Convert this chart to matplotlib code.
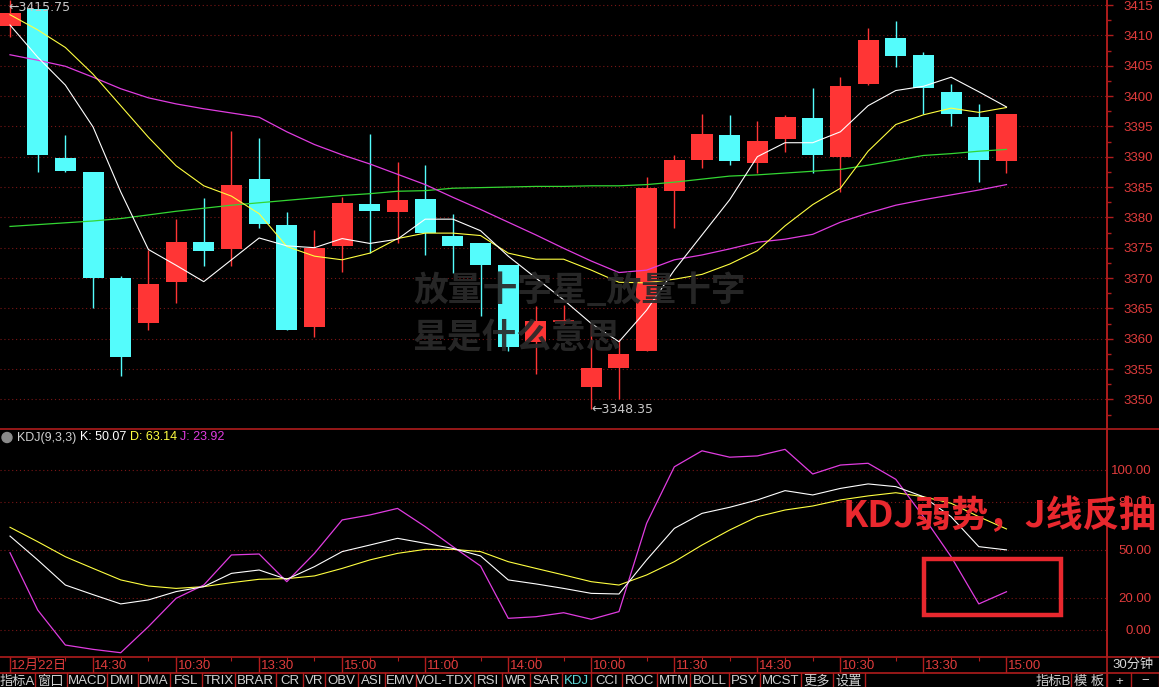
import matplotlib
matplotlib.use('Agg')
import matplotlib.pyplot as plt
from matplotlib.patches import Rectangle, Circle

plt.rcParams['font.family'] = ['Liberation Sans', 'Noto Sans CJK SC', 'DejaVu Sans']

# ---------------- data ----------------
opens  = [3411.6, 3414.3, 3389.7, 3387.5, 3370.0, 3362.6, 3369.4, 3375.9, 3374.8, 3386.3,
          3378.7, 3362.0, 3375.3, 3382.2, 3380.9, 3383.0, 3376.9, 3375.8, 3372.1, 3359.5,
          3362.9, 3352.0, 3355.1, 3358.0, 3384.3, 3389.5, 3393.6, 3389.0, 3392.9, 3396.4,
          3390.0, 3402.0, 3409.6, 3406.8, 3400.7, 3396.6, 3389.3]
highs  = [3415.75, 3414.3, 3393.6, 3387.5, 3370.3, 3374.6, 3379.7, 3383.2, 3394.2, 3393.0,
          3380.8, 3377.9, 3383.4, 3393.8, 3389.2, 3388.7, 3380.6, 3375.8, 3372.1, 3365.4,
          3365.5, 3362.5, 3359.8, 3386.6, 3390.2, 3397.0, 3396.9, 3395.8, 3396.9, 3401.4,
          3403.1, 3411.2, 3412.4, 3407.3, 3402.0, 3398.7, 3397.1]
lows   = [3409.8, 3387.4, 3387.5, 3365.0, 3353.9, 3361.4, 3365.8, 3371.9, 3371.9, 3378.3,
          3361.4, 3360.3, 3371.0, 3374.1, 3375.8, 3373.8, 3370.8, 3363.7, 3357.9, 3354.1,
          3362.5, 3348.35, 3350.1, 3358.0, 3378.2, 3388.2, 3388.7, 3387.3, 3390.8, 3387.3,
          3384.1, 3401.8, 3404.8, 3397.0, 3395.0, 3385.9, 3387.3]
closes = [3413.6, 3390.2, 3387.7, 3370.0, 3356.9, 3369.0, 3375.9, 3374.5, 3385.3, 3378.9,
          3361.4, 3374.9, 3382.4, 3381.1, 3382.9, 3377.4, 3375.3, 3372.1, 3358.6, 3362.9,
          3362.9, 3355.1, 3357.5, 3384.9, 3389.5, 3393.7, 3389.3, 3392.6, 3396.6, 3390.2,
          3401.6, 3409.2, 3406.6, 3401.4, 3397.1, 3389.5, 3397.1]

ma_white = [3411.7, 3406.4, 3401.8, 3394.9, 3384.2, 3374.7, 3372.1, 3369.4, 3373.0, 3376.6,
            3375.3, 3375.0, 3376.5, 3375.7, 3376.4, 3379.7, 3379.7, 3377.8, 3373.6, 3370.0,
            3366.4, 3362.5, 3359.5, 3364.7, 3371.3, 3377.1, 3382.9, 3390.0, 3392.3, 3392.3,
            3394.1, 3398.4, 3400.9, 3401.6, 3403.1, 3400.7, 3398.2]
ma_yellow = [3413.4, 3410.9, 3408.0, 3403.6, 3398.4, 3393.2, 3388.5, 3385.2, 3383.5, 3380.6,
             3375.2, 3373.6, 3373.0, 3374.1, 3376.5, 3377.4, 3377.4, 3377.0, 3374.1, 3373.1,
             3373.1, 3371.3, 3369.3, 3369.2, 3369.8, 3370.6, 3372.3, 3374.5, 3378.6, 3382.1,
             3384.8, 3390.9, 3395.3, 3396.9, 3398.0, 3397.3, 3398.1]
ma_magenta = [3406.8, 3405.9, 3404.9, 3403.1, 3401.2, 3399.7, 3398.7, 3397.9, 3397.2, 3396.5,
              3394.1, 3392.0, 3390.3, 3388.8, 3387.1, 3385.4, 3383.3, 3381.3, 3379.2, 3377.1,
              3374.9, 3372.8, 3370.9, 3371.3, 3373.0, 3373.8, 3374.8, 3375.9, 3376.4, 3377.2,
              3379.2, 3380.7, 3382.0, 3382.9, 3383.7, 3384.5, 3385.4]
ma_green = [3378.5, 3378.8, 3379.1, 3379.4, 3379.8, 3380.4, 3381.0, 3381.5, 3382.0, 3382.4,
            3382.8, 3383.2, 3383.6, 3383.9, 3384.3, 3384.4, 3384.8, 3384.9, 3385.0, 3385.1,
            3385.1, 3385.2, 3385.2, 3385.4, 3385.8, 3386.3, 3386.8, 3387.0, 3387.3, 3387.6,
            3387.9, 3388.6, 3389.4, 3390.2, 3390.5, 3390.9, 3391.2]

kdj_k = [58.7, 43.8, 28.1, 22.1, 16.3, 18.8, 24.0, 27.1, 35.4, 37.5,
         31.7, 39.6, 49.0, 53.1, 57.3, 54.2, 51.0, 46.3, 31.3, 28.8,
         26.0, 22.9, 22.5, 43.8, 63.5, 72.9, 76.7, 81.3, 87.1, 84.4,
         88.5, 91.3, 89.6, 83.3, 70.8, 52.1, 50.07]
kdj_d = [64.2, 55.2, 45.8, 38.5, 31.3, 27.5, 26.0, 27.1, 29.6, 31.7,
         32.1, 33.8, 38.5, 43.8, 47.9, 50.4, 50.4, 49.0, 42.7, 38.5,
         34.4, 30.2, 28.1, 34.4, 42.7, 53.1, 62.5, 70.8, 75.0, 77.5,
         81.3, 83.8, 85.8, 83.3, 79.2, 70.8, 63.14]
kdj_j = [48.3, 12.5, -9.4, -12.1, -14.2, 2.1, 19.8, 28.1, 46.9, 47.5,
         30.2, 47.9, 68.8, 71.9, 76.0, 64.6, 52.1, 40.0, 7.3, 8.3,
         10.8, 6.7, 11.5, 66.7, 102.0, 112.0, 108.0, 108.8, 112.9, 97.5,
         103.1, 104.2, 94.2, 70.8, 45.8, 16.3, 23.92]

time_idx = [0, 3, 6, 9, 12, 15, 18, 21, 24, 27, 30, 33, 36]
time_labels = ['12月22日', '14:30', '10:30', '13:30', '15:00', '11:00', '14:00',
               '10:00', '11:30', '14:30', '10:30', '13:30', '15:00']
price_ticks = list(range(3350, 3420, 5))
kdj_ticks = [0, 20, 50, 80, 100]
kdj_tick_labels = ['0.00', '20.00', '50.00', '80.00', '100.00']

tabs_left = ['指标A', '窗口', 'MACD', 'DMI', 'DMA', 'FSL', 'TRIX', 'BRAR', 'CR', 'VR', 'OBV',
             'ASI', 'EMV', 'VOL-TDX', 'RSI', 'WR', 'SAR', 'KDJ', 'CCI', 'ROC', 'MTM', 'BOLL',
             'PSY', 'MCST', '更多', '设置']
tabs_left_edges = [0, 35, 67, 107, 138, 170, 202, 235, 276, 303, 325, 358, 385, 416, 474,
                   502, 530, 562, 591, 622, 657, 690, 729, 760, 801, 833, 865]
tabs_right = ['指标B', '模 板', '+', '−']
tabs_right_edges = [1035, 1071, 1107, 1131, 1159]

# ---------------- style ----------------
W, H, DPI = 1159, 687, 100
RED_UP = '#ff3535'
CYAN_DN = '#54fcfc'
FRAME = '#b01c1c'
GRID = '#7a1616'
AXTXT = '#e03c3c'
PX = 27.68          # pixels per candle
X0 = -10 / PX
X1 = 1097 / PX
XR = 1107           # right edge of plotting area (px)

fig = plt.figure(figsize=(W / DPI, H / DPI), dpi=DPI, facecolor='black')

def fy(py):
    return 1 - py / H

# ---------- price panel ----------
ax = fig.add_axes([0, fy(428.7), XR / W, 428.7 / H])
ax.set_facecolor('black')
ax.set_xlim(X0, X1)
ax.set_ylim(3415 - 423.7 / 6.067, 3415 + 5 / 6.067)
for s in ['left', 'top', 'bottom']:
    ax.spines[s].set_visible(False)
ax.spines['right'].set_color(FRAME)
ax.spines['right'].set_linewidth(1.2)
ax.set_xticks([])
ax.yaxis.tick_right()
ax.set_yticks(price_ticks)
ax.set_yticklabels([str(t) for t in price_ticks])
ax.set_yticks([t + 2.5 for t in price_ticks[:-1]] + [3347.5], minor=True)
ax.tick_params(axis='y', which='major', colors=FRAME, labelcolor=AXTXT, length=4,
               width=1, labelsize=9.5, pad=29)
ax.tick_params(axis='y', which='minor', colors=FRAME, length=3, width=1)
for lbl in ax.get_yticklabels():
    lbl.set_ha('right')
for t in price_ticks:
    ax.axhline(t, color=GRID, lw=0.8, ls=(0, (1, 2.5)), zorder=0)

idx = list(range(len(opens)))
bw = 0.76
for i in idx:
    o, h, l, c = opens[i], highs[i], lows[i], closes[i]
    col = RED_UP if c >= o else CYAN_DN
    ax.vlines(i, l, h, color=col, lw=1.0, zorder=2)
    if abs(c - o) < 0.15:
        ax.hlines(o, i - bw / 2, i + bw / 2, color=col, lw=1.2, zorder=3)
    else:
        ax.bar(i, abs(c - o), bottom=min(o, c), width=bw, color=col, lw=0, zorder=3)

ax.plot(idx, ma_green, color='#33d633', lw=0.9, zorder=4)
ax.plot(idx, ma_magenta, color='#e03ce0', lw=0.9, zorder=4)
ax.plot(idx, ma_yellow, color='#ffff40', lw=0.8, zorder=4)
ax.plot(idx, ma_white, color='#ffffff', lw=0.8, zorder=4)

hi_i = highs.index(max(highs))
lo_i = lows.index(min(lows))
ax.annotate('←%.2f' % max(highs), xy=(hi_i, max(highs)), xytext=(-1, -5),
            textcoords='offset points', color='#c8c8c8', fontsize=9, va='center',
            ha='left', family=['DejaVu Sans'], annotation_clip=False)
ax.annotate('←%.2f' % min(lows), xy=(lo_i, min(lows)), xytext=(0, 0),
            textcoords='offset points', color='#c8c8c8', fontsize=9, va='center',
            ha='left', family=['DejaVu Sans'])

# ---------- KDJ panel ----------
ak = fig.add_axes([0, fy(657), XR / W, (657 - 429.3) / H])
ak.set_facecolor('black')
ak.set_xlim(X0, X1)
ak.set_ylim((630 - 657) / 1.6, (630 - 429.3) / 1.6)
for s in ['left', 'top', 'bottom']:
    ak.spines[s].set_visible(False)
ak.spines['right'].set_color(FRAME)
ak.spines['right'].set_linewidth(1.2)
ak.set_xticks([])
ak.yaxis.tick_right()
ak.set_yticks(kdj_ticks)
ak.set_yticklabels(kdj_tick_labels)
ak.tick_params(axis='y', colors=FRAME, labelcolor=AXTXT, length=0, labelsize=9.5, pad=32)
for lbl in ak.get_yticklabels():
    lbl.set_ha('right')
for t in kdj_ticks:
    ak.axhline(t, color=GRID, lw=0.8, ls=(0, (1, 2.5)), zorder=0)
ak.plot(idx, kdj_d, color='#ffff40', lw=0.8, zorder=3)
ak.plot(idx, kdj_k, color='#ffffff', lw=0.8, zorder=4)
ak.plot(idx, kdj_j, color='#e03ce0', lw=0.9, zorder=3)

# ---------- time axis row ----------
at = fig.add_axes([0, fy(673), XR / W, 16 / H], sharex=ak)
at.set_facecolor('black')
at.set_ylim(0, 1)
at.axis('off')
at.set_xlim(X0, X1)
at.vlines(idx, 0.78, 1, color=FRAME, lw=0.8)
at.vlines(time_idx, 0, 1, color=FRAME, lw=1.0)
for i, lab in zip(time_idx, time_labels):
    at.text(i + 0.05, 0.42, lab, color=AXTXT, fontsize=9.5, va='center', ha='left')

# ---------- overlay (frames, tabs, annotations) ----------
ov = fig.add_axes([0, 0, 1, 1])
ov.set_xlim(0, W)
ov.set_ylim(H, 0)
ov.axis('off')
ov.patch.set_alpha(0)

for yy in (429.0, 657.3, 673.3):
    ov.plot([0, W], [yy, yy], color=FRAME, lw=1.2)
ov.plot([XR, XR], [0, 687], color=FRAME, lw=1.2)

# KDJ title
ov.add_patch(Circle((7, 437.5), 5, color='#8a8a8a'))
ov.text(17, 437.5, 'KDJ(9,3,3)', color='#d0d0d0', fontsize=9, va='center')
ov.text(80, 437.5, 'K: %.2f' % kdj_k[-1], color='#ffffff', fontsize=9, va='center')
ov.text(130, 437.5, 'D: %.2f' % kdj_d[-1], color='#ffff40', fontsize=9, va='center')
ov.text(180, 437.5, 'J: %.2f' % kdj_j[-1], color='#e03ce0', fontsize=9, va='center')

ov.text(1133, 665, '30分钟', color='#d8d8d8', fontsize=9.5, va='center', ha='center')

# tab bar
def draw_tabs(names, edges):
    for k, name in enumerate(names):
        a, b = edges[k], edges[k + 1]
        col = '#5fd7d7' if name == 'KDJ' else '#d0d0d0'
        ov.text((a + b) / 2, 675.5, name, color=col, fontsize=9.5, va='top', ha='center')
    for e in edges[1:]:
        ov.plot([e, e], [673.3, 687], color=FRAME, lw=1.0)
draw_tabs(tabs_left, tabs_left_edges)
draw_tabs(tabs_right, tabs_right_edges)

# watermark
ov.text(413, 291, '放量十字星_放量十字', color='#2a2a2a', alpha=0.93, fontsize=25,
        family=['Noto Sans CJK SC'], weight='bold', va='center', ha='left', zorder=10)
ov.text(413, 338, '星是什么意思', color='#2a2a2a', alpha=0.93, fontsize=25,
        family=['Noto Sans CJK SC'], weight='bold', va='center', ha='left', zorder=10)

# red annotation
ov.text(1000, 517, 'KDJ弱势，J线反抽', color='#e8282e', fontsize=26.5,
        family=['Noto Sans CJK SC'], weight='bold', va='center', ha='center', zorder=10)
ov.add_patch(Rectangle((924, 559), 137, 56, fill=False, ec='#e8282e', lw=3.2, zorder=10))

fig.savefig('out.png', dpi=DPI, facecolor='black')
